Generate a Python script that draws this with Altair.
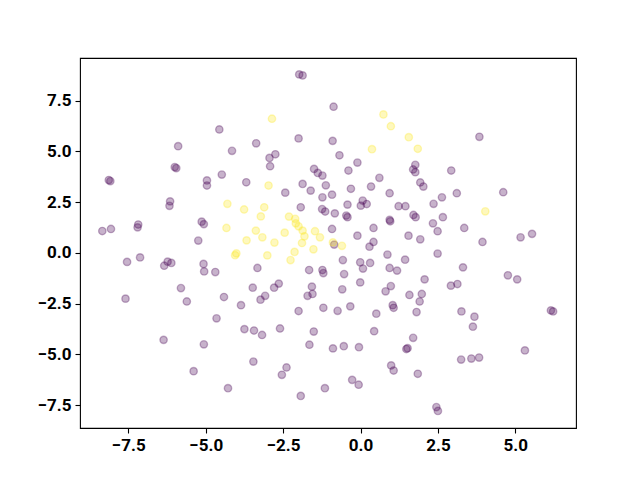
import altair as alt
import pandas as pd

# class 0 (purple) points
purple_x = [-5.89, -6.00, -5.95, -8.13, -8.08, -1.98, -1.87, -4.56, -3.37, -2.00,
            -4.15, -2.94, -2.75, -2.92, -1.50, -1.38, -1.23, -4.48, -0.87, -0.90,
            -0.68, -0.10, -0.39, 0.61, 1.77, 1.70, 1.77, 2.93, 3.84, -6.15,
            -6.17, -8.34, -8.06, -7.18, -7.20, -5.13, -5.06, -5.24, -7.54, -7.12,
            -6.23, -6.34, -6.11, -5.07, -5.05, -5.80, -5.61, -7.59, -4.96, -4.96,
            -3.69, -1.87, -1.61, -2.43, -1.12, -1.23, -0.92, -1.93, -1.24, -1.14,
            -0.92, -4.69, -3.33, -1.66, -1.23, -1.20, -3.48, -2.79, -2.64, -1.57,
            -1.71, -1.55, -4.41, -3.23, -3.08, -3.86, -1.20, -0.31, 0.34, 1.93,
            2.03, 0.94, 2.63, 3.11, -0.42, 0.07, 0.01, 0.20, 1.23, 1.45,
            2.36, -0.83, -0.46, -0.42, 1.71, 1.78, 2.66, 0.94, 0.96, 2.34,
            0.42, 2.49, -0.10, 1.55, 1.93, -0.85, 0.42, 0.29, 0.87, 1.44,
            2.49, -0.57, -0.01, 0.08, 0.31, 0.94, 1.18, -0.53, 2.07, -0.01,
            2.92, 3.13, -0.59, 0.98, 0.81, 1.98, 1.58, 1.91, 1.04, 1.07,
            -0.33, 4.61, 3.35, 3.94, 5.17, 5.54, 3.31, 4.76, 5.06, -6.36,
            -5.06, -5.39, -4.65, -3.75, -3.44, -3.18, -2.60, -2.00, -1.51, -1.65,
            -0.89, -3.46, -2.39, -2.54, -4.28, -1.93, -1.15, -0.74, 0.51, 1.81,
            0.44, -0.54, -0.05, 1.70, 1.48, 1.52, 0.99, 1.07, 1.85, -0.27,
            -0.06, 2.45, 2.50, 3.26, 3.68, 3.63, 6.15, 6.22, 3.25, 3.58,
            3.83, 5.31]
purple_y = [5.26, 4.23, 4.18, 3.59, 3.54, 8.79, 8.74, 6.08, 5.40, 5.64,
            5.03, 4.68, 4.86, 4.27, 4.14, 3.94, 3.81, 3.86, 7.20, 5.52,
            4.81, 4.45, 4.06, 3.70, 4.34, 4.11, 3.98, 4.06, 5.72, 2.54,
            2.32, 1.08, 1.18, 1.40, 1.26, 1.54, 1.42, 0.61, -0.44, -0.22,
            -0.43, -0.63, -0.49, -0.54, -0.91, -1.73, -2.39, -2.25, 3.57, 3.32,
            3.48, 3.40, 3.07, 2.97, 3.33, 2.74, 2.87, 2.25, 2.16, 2.04,
            1.18, -0.94, -0.74, -0.84, -0.84, -0.99, -1.71, -1.71, -1.51, -1.66,
            -2.11, -2.02, -2.17, -2.30, -2.11, -2.57, -2.70, 3.16, 3.27, 3.47,
            3.27, 2.94, 2.74, 2.94, 2.38, 2.58, 2.33, 2.41, 2.30, 2.30,
            2.42, 1.95, 1.84, 1.76, 1.87, 1.76, 1.76, 1.63, 1.56, 1.46,
            1.23, 1.07, 0.85, 0.85, 0.67, 0.41, 0.54, 0.31, -0.08, -0.33,
            -0.03, -0.35, -0.46, -0.77, -0.49, -0.74, -0.87, -1.04, -1.30, -1.45,
            -1.61, -1.53, -1.79, -1.63, -1.89, -2.02, -2.07, -2.39, -2.57, -2.70,
            -2.63, 2.99, 1.23, 0.54, 0.77, 0.94, -0.71, -1.10, -1.30, -4.28,
            -4.50, -5.82, -3.22, -3.75, -3.82, -4.04, -3.72, -2.86, -3.87, -4.52,
            -4.70, -5.35, -5.64, -6.00, -6.66, -7.04, -6.66, -2.85, -2.99, -2.91,
            -3.85, -4.59, -4.64, -4.18, -4.73, -4.69, -5.54, -5.79, -5.95, -6.25,
            -6.49, -7.59, -7.78, -2.88, -3.14, -3.63, -2.83, -2.88, -5.25, -5.20,
            -5.15, -4.80]

# class 1 (yellow) points
yellow_x = [-2.86, 0.74, 0.98, 1.56, 1.85, 0.37, -2.97, -4.30, -3.76, -3.11,
            -3.22, -2.31, -2.11, -2.09, -2.00, -4.33, -3.38, -3.17, -2.45, -1.87,
            -1.81, -1.47, -1.31, -3.68, -2.78, -1.89, -1.52, -2.13, -4.01, -4.05,
            -3.01, -2.26, -0.89, -0.60, 4.03]
yellow_y = [6.61, 6.82, 6.24, 5.70, 5.13, 5.11, 3.32, 2.42, 2.14, 2.25,
            1.80, 1.79, 1.68, 1.46, 1.31, 1.23, 1.10, 0.77, 1.00, 1.10,
            0.82, 1.07, 0.77, 0.62, 0.51, 0.49, 0.18, 0.05, -0.02, -0.11,
            -0.12, -0.35, 0.52, 0.35, 2.05]

x_ticks = [-7.5, -5.0, -2.5, 0.0, 2.5, 5.0]
y_ticks = [-7.5, -5.0, -2.5, 0.0, 2.5, 5.0, 7.5]
x_domain = [-9.06, 6.96]
y_domain = [-8.62, 9.60]

df = pd.DataFrame({
    "x": purple_x + yellow_x,
    "y": purple_y + yellow_y,
    "label": ["0"] * len(purple_x) + ["1"] * len(yellow_x),
})

FONT = "Roboto"
common_axis = dict(
    title=None, grid=False, domain=False, format=".1f",
    tickColor="black", tickSize=5, tickWidth=1.1,
    labelFont=FONT, labelFontSize=17, labelFontWeight="bold",
    labelColor="black", labelPadding=4, labelOverlap=False, labelFlush=False,
)

color_scale = alt.Scale(domain=["0", "1"], range=["#440154", "#fde725"])

chart = alt.Chart(df).mark_circle(
    size=54, fillOpacity=0.3, strokeOpacity=0.3, strokeWidth=1.4
).encode(
    x=alt.X("x:Q", scale=alt.Scale(domain=x_domain, nice=False, zero=False),
            axis=alt.Axis(values=x_ticks, **common_axis)),
    y=alt.Y("y:Q", scale=alt.Scale(domain=y_domain, nice=False, zero=False),
            axis=alt.Axis(values=y_ticks, **common_axis)),
    color=alt.Color("label:N", scale=color_scale, legend=None),
    stroke=alt.Stroke("label:N", scale=color_scale, legend=None),
).properties(
    width=496, height=370,
    background="white",
    autosize=alt.AutoSizeParams(type="none"),
    padding={"left": 72, "top": 50, "right": 56, "bottom": 45},
).configure_view(
    stroke="black", strokeWidth=1.1
)

chart.save("out.html", embed_options={"renderer": "svg", "actions": False})
